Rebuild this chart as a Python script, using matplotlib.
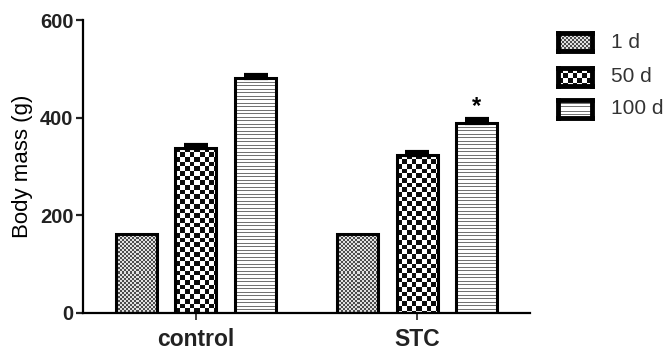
import numpy as np
import matplotlib
matplotlib.use("Agg")
import matplotlib.pyplot as plt

plt.rcParams['font.family'] = ['Liberation Sans', 'DejaVu Sans']

# --- datos ---
groups = ['control', 'STC']
series = ['1 d', '50 d', '100 d']
means = {
    '1 d':   [162, 162],
    '50 d':  [338, 324],
    '100 d': [481, 389],
}
errors = {
    '1 d':   [0, 0],
    '50 d':  [6, 6],
    '100 d': [6, 8],
}
star_marks = [('STC', '100 d')]   # diferencia significativa

W, H = 668, 358
fig = plt.figure(figsize=(W / 100, H / 100), dpi=100)
ax = fig.add_axes([83 / W, 45 / H, (530 - 83) / W, (313 - 20) / H])

XLIM = (-0.51, 1.51)
YLIM = (0, 600)
ax_w_px = 530 - 83
ax_h_px = 313 - 20
px_x = ax_w_px / (XLIM[1] - XLIM[0])
px_y = ax_h_px / (YLIM[1] - YLIM[0])


def pattern(kind, w, h):
    """Devuelve una matriz en gris (0-1) con el relleno de cada serie."""
    j, i = np.meshgrid(np.arange(w), np.arange(h))
    if kind == '1 d':
        return np.where(((i // 2) + (j // 2)) % 2 == 0, 0.3, 0.88)
    if kind == '50 d':
        return np.where(((i * 10 // 47) + (j * 10 // 47)) % 2 == 0, 0.05, 1.0)
    # rayas horizontales
    return np.where((i * 10 % 35) < 10, 0.45, 1.0)


offsets = [-0.27, 0.0, 0.27]
width = 0.186
x = np.arange(len(groups))

for k, s in enumerate(series):
    xs = x + offsets[k]
    bars = ax.bar(xs, means[s], width, facecolor='none', edgecolor='black',
                  linewidth=2.2, zorder=3)
    for b in bars:
        bw = int(round(b.get_width() * px_x))
        bh = max(int(round(b.get_height() * px_y)), 1)
        img = ax.imshow(pattern(s, bw, bh), cmap='gray', vmin=0, vmax=1,
                        interpolation='nearest', aspect='auto', origin='upper',
                        extent=(b.get_x(), b.get_x() + b.get_width(), 0, b.get_height()),
                        zorder=2)
        img.set_clip_path(b)
    err = np.array(errors[s])
    if err.any():
        ax.errorbar(xs, means[s], yerr=[np.zeros_like(err), err], fmt='none',
                    ecolor='black', elinewidth=2, capsize=8.5, capthick=3, zorder=4)

for g, s in star_marks:
    gi = groups.index(g)
    si = series.index(s)
    ax.text(gi + offsets[si], means[s][gi] + errors[s][gi] + 3, '*',
            ha='center', va='bottom', fontsize=17, fontweight='bold')

ax.set_xlim(XLIM)
ax.set_ylim(YLIM)
ax.set_yticks([0, 200, 400, 600])
ax.set_xticks(x)
ax.set_xticklabels(groups, fontsize=16.5, fontweight='bold')
for lab in ax.get_yticklabels():
    lab.set_fontsize(14.5)
    lab.set_fontweight('bold')
ax.set_ylabel('Body mass (g)', fontsize=16, labelpad=5)
ax.spines['top'].set_visible(False)
ax.spines['right'].set_visible(False)
ax.spines['left'].set_linewidth(1.6)
ax.spines['bottom'].set_linewidth(1.6)
ax.tick_params(axis='y', length=5, width=1.6, pad=2, colors='#222222')
ax.tick_params(axis='x', length=5, width=1.2, pad=6, colors='#222222')

# --- leyenda dibujada a mano ---
rows_y = [42, 77, 109]
for s, yc in zip(series, rows_y):
    sw = fig.add_axes([558 / W, (H - yc - 9) / H, 34 / W, 18 / H])
    sw.imshow(pattern(s, 34, 18), cmap='gray', vmin=0, vmax=1,
              interpolation='nearest', aspect='auto')
    sw.set_xticks([])
    sw.set_yticks([])
    for sp in sw.spines.values():
        sp.set_linewidth(3.5)
    fig.text(611 / W, (H - yc) / H, s, fontsize=15, color='#333333',
             ha='left', va='center')

fig.savefig('out.png', dpi=100)
